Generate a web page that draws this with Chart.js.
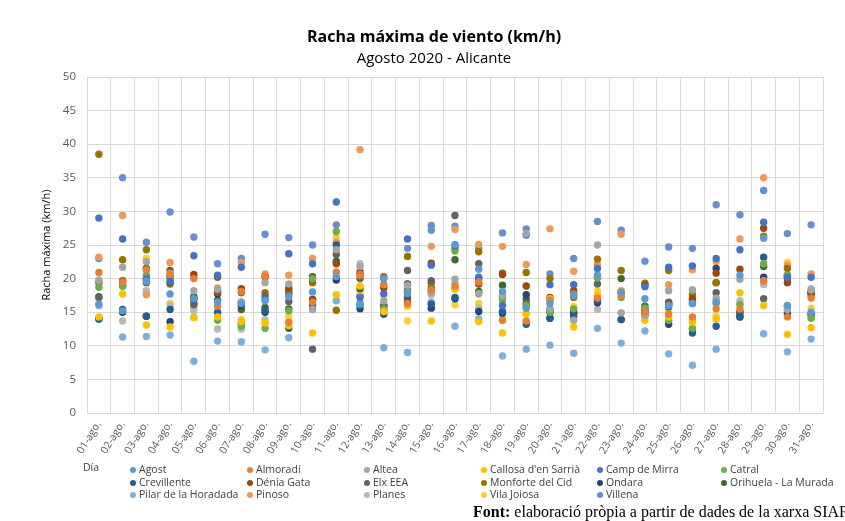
<!DOCTYPE html>
<html>
<head>
<meta charset="utf-8">
<script src="https://cdn.jsdelivr.net/npm/chart.js@4"></script>
<style>
  body { margin: 0; background: #fff; font-family: 'Open Sans', sans-serif; }
  #wrap { position: relative; width: 845px; height: 521px; overflow: hidden; }
  #chart { position: absolute; left: 0; top: 0; }
  .title { position: absolute; left: 0; width: 868px; text-align: center; color: #000; }
  #t1 { top: 25px; font-size: 16px; font-weight: bold; }
  #t2 { top: 47px; font-size: 15px; }
  #legend { position: absolute; left: 0; top: 460px; font-size: 10.5px; color: #404040; }
  .item { position: absolute; white-space: nowrap; }
  .dot { display: inline-block; width: 6px; height: 6px; border-radius: 50%; margin-right: 3px; vertical-align: 0px; }
  #font { position: absolute; left: 473px; top: 503px; font-family: 'Liberation Serif', serif; font-size: 16px; white-space: nowrap; color: #000; }
</style>
</head>
<body>
<div id="wrap">
  <canvas id="chart" width="845" height="521"></canvas>
  <div class="title" id="t1">Racha máxima de viento (km/h)</div>
  <div class="title" id="t2">Agosto 2020 - Alicante</div>
  <div id="legend"></div>
  <div id="font"><b>Font:</b> elaboració pròpia a partir de dades de la xarxa SIAR</div>
</div>
<script>
// Días de agosto
const dias = ['01-ago.', '02-ago.', '03-ago.', '04-ago.', '05-ago.', '06-ago.', '07-ago.', '08-ago.', '09-ago.', '10-ago.',
    '11-ago.', '12-ago.', '13-ago.', '14-ago.', '15-ago.', '16-ago.', '17-ago.', '18-ago.', '19-ago.', '20-ago.',
    '21-ago.', '22-ago.', '23-ago.', '24-ago.', '25-ago.', '26-ago.', '27-ago.', '28-ago.', '29-ago.', '30-ago.', '31-ago.'];

// Racha máxima por estación (km/h)
const agost = [16.2, 15.2, 19.6, 17.7, 17.0, 16.5, 16.3, 16.7, 17.3, 18.0, 20.3, 16.2, 20.0, 17.8, 27.2, 25.1, 21.4, 18.1, 15.6, 16.3, 17.5, 20.5, 18.0, 17.0, 16.0, 16.3, 16.5, 20.5, 26.0, 16.0, 15.0];
const almoradi = [20.9, 19.5, 21.3, 20.6, 20.0, 15.9, 18.1, 20.4, 13.5, 16.5, 21.0, 20.5, 19.1, 16.3, 18.3, 18.9, 19.5, 13.8, 13.7, 16.8, 17.7, 17.1, 17.5, 15.0, 14.7, 14.3, 15.5, 15.5, 19.6, 14.3, 17.1];
const altea = [19.7, 21.7, 22.5, 20.8, 18.2, 18.4, 16.5, 19.4, 19.2, 15.4, 24.3, 21.8, 16.7, 19.0, 18.0, 19.9, 17.7, 17.5, 26.7, 15.5, 13.8, 25.0, 14.9, 14.5, 18.2, 18.3, 17.1, 19.9, 19.7, 15.4, 18.3];
const callosa = [14.3, 17.7, 13.1, 12.8, 14.2, 14.3, 13.6, 13.4, 13.0, 11.9, 17.6, 18.9, 15.1, 15.9, 13.7, 18.4, 13.6, 11.9, 14.8, 17.0, 12.8, 17.5, 18.2, 13.8, 14.3, 13.5, 14.0, 17.9, 16.0, 11.7, 12.7];
const campMirra = [29.0, 25.9, 20.0, 19.7, 23.4, 20.5, 21.7, 16.9, 23.7, 22.2, 31.4, 17.2, 17.7, 25.9, 22.0, 24.9, 20.2, 16.0, 26.5, 19.1, 19.1, 21.5, 18.0, 18.8, 21.7, 21.9, 23.0, 24.3, 28.4, 20.2, 20.2];
const catral = [18.7, 18.9, 20.5, 20.2, 14.2, 13.8, 12.9, 12.6, 15.2, 20.0, 27.0, 20.6, 15.5, 18.0, 18.0, 24.1, 17.8, 16.8, 16.0, 15.0, 15.5, 20.1, 17.2, 15.6, 13.8, 12.6, 16.3, 16.1, 22.2, 20.5, 14.1];
const crevillente = [14.0, 15.4, 14.4, 15.4, 16.9, 15.0, 13.3, 15.3, 12.6, 16.2, 25.0, 16.0, 14.7, 16.6, 16.2, 17.2, 20.0, 15.1, 13.2, 14.1, 14.4, 16.8, 13.9, 14.9, 15.8, 11.9, 12.9, 14.3, 23.2, 15.8, 14.8];
const deniaGata = [19.4, 19.7, 21.5, 21.2, 20.6, 18.1, 18.5, 20.2, 18.6, 16.8, 22.2, 21.0, 18.6, 17.2, 22.3, 18.5, 19.2, 20.6, 18.9, 17.2, 18.2, 16.8, 17.9, 19.0, 16.2, 17.0, 20.8, 21.4, 27.5, 19.4, 17.8];
const elxEEA = [17.2, 19.0, 19.4, 19.4, 16.1, 20.2, 16.5, 17.4, 16.6, 9.5, 23.6, 20.0, 15.9, 21.2, 19.7, 29.4, 22.2, 17.3, 16.3, 15.3, 17.9, 19.2, 18.0, 14.6, 16.4, 16.7, 17.9, 15.0, 17.0, 20.5, 18.0];
const monforte = [38.5, 22.8, 24.3, 19.2, 16.3, 18.0, 17.9, 17.9, 18.2, 19.4, 15.3, 20.7, 20.3, 23.3, 19.3, 24.4, 24.0, 20.8, 20.9, 20.0, 17.2, 22.9, 21.2, 19.3, 21.2, 17.6, 19.4, 15.0, 26.3, 21.5, 17.5];
const ondara = [14.0, 15.0, 14.4, 13.6, 17.0, 17.7, 16.0, 15.0, 17.9, 16.9, 19.8, 15.5, 15.9, 19.2, 15.6, 17.0, 15.1, 14.8, 17.6, 14.1, 14.8, 16.4, 13.9, 15.3, 13.2, 16.3, 21.5, 14.3, 20.2, 14.8, 14.6];
const orihuela = [17.3, 18.9, 19.9, 20.3, 17.3, 16.8, 15.4, 15.7, 15.5, 20.3, 22.6, 18.5, 15.3, 18.2, 18.6, 22.8, 18.1, 19.0, 16.9, 15.0, 15.0, 20.2, 20.0, 15.9, 16.5, 12.5, 19.4, 14.8, 21.8, 20.0, 17.9];
const pilar = [16.0, 11.3, 11.4, 11.6, 7.7, 10.7, 10.6, 9.4, 11.2, 15.8, 16.7, 16.4, 9.7, 9.0, 16.5, 12.9, 14.0, 8.5, 9.5, 10.1, 8.9, 12.6, 10.4, 12.2, 8.8, 7.1, 9.5, 14.6, 11.8, 9.1, 11.0];
const pinoso = [23.2, 29.4, 17.6, 22.4, 20.2, 18.6, 22.4, 20.7, 20.5, 23.0, 25.4, 39.2, 19.1, 16.5, 24.8, 27.3, 25.1, 24.8, 22.1, 27.4, 21.1, 22.1, 26.6, 14.8, 19.1, 21.3, 22.5, 25.9, 35.0, 22.0, 20.7];
const planes = [19.8, 13.7, 18.2, 16.0, 15.2, 12.5, 12.5, 13.9, 17.5, 15.4, 19.9, 22.2, 16.2, 18.6, 17.6, 19.3, 15.6, 17.0, 15.7, 15.5, 13.8, 15.4, 14.9, 14.3, 16.2, 18.3, 16.7, 16.7, 19.1, 15.2, 18.5];
const vilaJoiosa = [14.2, 19.5, 23.0, 16.3, 15.7, 14.5, 13.9, 13.4, 14.4, 19.4, 26.2, 18.1, 15.1, 13.7, 16.5, 16.1, 16.3, 13.8, 14.8, 16.6, 15.8, 18.1, 18.2, 15.4, 15.2, 13.8, 14.4, 16.3, 23.1, 22.4, 15.6];
const villena = [23.0, 35.0, 25.4, 29.9, 26.2, 22.2, 23.0, 26.6, 26.1, 25.0, 28.0, 17.5, 20.0, 24.5, 27.9, 27.8, 24.5, 26.8, 27.4, 20.7, 23.0, 28.5, 27.2, 22.6, 24.7, 24.5, 31.0, 29.5, 33.1, 26.7, 28.0];

const estaciones = [
    ['Agost', agost, '#5B9BD5'],
    ['Almoradí', almoradi, '#ED7D31'],
    ['Altea', altea, '#A5A5A5'],
    ["Callosa d'en Sarrià", callosa, '#FFC000'],
    ['Camp de Mirra', campMirra, '#4472C4'],
    ['Catral', catral, '#70AD47'],
    ['Crevillente', crevillente, '#255E91'],
    ['Dénia Gata', deniaGata, '#9E480E'],
    ['Elx EEA', elxEEA, '#636363'],
    ['Monforte del Cid', monforte, '#997300'],
    ['Ondara', ondara, '#264478'],
    ['Orihuela - La Murada', orihuela, '#43682B'],
    ['Pilar de la Horadada', pilar, '#7CAFDD'],
    ['Pinoso', pinoso, '#F1975A'],
    ['Planes', planes, '#B7B7B7'],
    ['Vila Joiosa', vilaJoiosa, '#FFCD33'],
    ['Villena', villena, '#698ED0']
];

const gridColor = '#d9d9d9';
const textColor = '#595959';

const chart = new Chart(document.getElementById('chart'), {
    type: 'line',
    data: {
        labels: dias,
        datasets: estaciones.map(([nombre, valores, color]) => ({
            label: nombre,
            data: valores,
            showLine: false,
            pointRadius: 3.7,
            pointHoverRadius: 3.7,
            pointBorderWidth: 0,
            backgroundColor: color,
            borderColor: color
        }))
    },
    options: {
        responsive: false,
        animation: false,
        layout: { padding: { top: 77, right: 22, bottom: 66, left: 0 } },
        plugins: {
            legend: { display: false },
            tooltip: { enabled: false }
        },
        scales: {
            x: {
                offset: true,
                grid: { color: gridColor, offset: true, drawTicks: false },
                border: { color: gridColor },
                ticks: {
                    color: textColor,
                    font: { family: 'Open Sans', size: 10.5 },
                    minRotation: 58,
                    maxRotation: 58,
                    padding: 6,
                    autoSkip: false
                },
                afterFit: (s) => { s.height = 42; }
            },
            y: {
                min: 0,
                max: 50,
                grid: { color: gridColor, drawTicks: false },
                border: { display: false },
                ticks: {
                    stepSize: 5,
                    color: textColor,
                    font: { family: 'Open Sans', size: 11.5 },
                    padding: 11
                },
                title: {
                    display: true,
                    text: 'Racha máxima (km/h)',
                    color: '#000',
                    font: { family: 'Open Sans', size: 11 },
                    padding: { top: 40, bottom: 0 }
                },
                afterFit: (s) => { s.width = 87; }
            }
        }
    }
});

// Leyenda en columnas, como en la hoja original
const legend = document.getElementById('legend');
const dia = document.createElement('div');
dia.className = 'item';
dia.style.left = '83px';
dia.style.top = '0px';
dia.textContent = 'Día';
legend.appendChild(dia);
const colX = [130, 247, 364, 481, 597, 721];
estaciones.forEach(([nombre, , color], i) => {
    const fila = Math.floor(i / 6);
    const col = i % 6;
    const el = document.createElement('div');
    el.className = 'item';
    el.style.left = colX[col] + 'px';
    el.style.top = (fila * 12.5 + 2) + 'px';
    el.innerHTML = '<span class="dot" style="background:' + color + '"></span>' + nombre;
    legend.appendChild(el);
});
</script>
</body>
</html>
